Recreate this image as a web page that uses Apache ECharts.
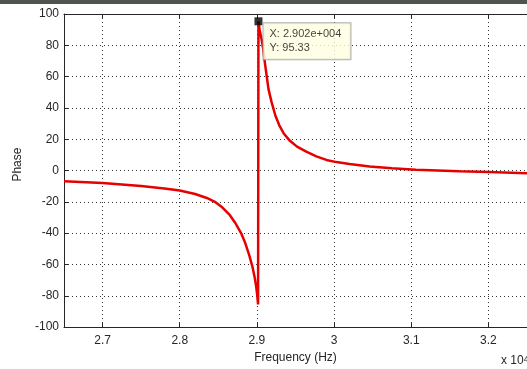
<!DOCTYPE html>
<html>
<head>
<meta charset="utf-8">
<script src="https://cdn.jsdelivr.net/npm/echarts@6/dist/echarts.min.js"></script>
<style>
  html, body { margin: 0; padding: 0; background: #fff; }
  #phase { width: 527px; height: 369px; }
</style>
</head>
<body>
<div id="phase"></div>
<script>
// frequency in units of 1e4 Hz, phase in degrees
const freq = [2.65, 2.70, 2.75, 2.78, 2.80, 2.82, 2.835, 2.845, 2.855, 2.865, 2.872, 2.88, 2.885, 2.89, 2.894,
  2.897, 2.899, 2.9005, 2.9015,
  2.902, 2.9035, 2.906, 2.908, 2.910, 2.915, 2.919, 2.924, 2.929, 2.935, 2.942, 2.952, 2.964, 2.977, 2.99,
  3.003, 3.02, 3.046, 3.075, 3.106, 3.162, 3.2, 3.25];
const phase = [-6.9, -8.0, -9.9, -11.4, -12.8, -15.0, -17.5, -19.8, -23.5, -28.5, -33.5, -40.5, -46.5, -54, -61,
  -68, -74, -80, -85.5,
  95.33, 90, 84, 78, 70, 52, 43.7, 35, 28.9, 23.5, 19.4, 15.3, 12.1, 9.1, 6.8,
  5.4, 4.2, 2.6, 1.5, 0.5, -0.5, -1.0, -1.7];

// data tip
const tipX = 2.902;
const tipY = 95.33;

const axisColor = '#262626';
const gridDash = [1, 3];

const chart = echarts.init(document.getElementById('phase'), null, { renderer: 'canvas' });

chart.setOption({
  backgroundColor: '#fff',
  animation: false,
  textStyle: { fontFamily: 'Liberation Sans, Arial, sans-serif' },
  grid: { left: 64, top: 14, width: 464, height: 318 },
  graphic: [
    { type: 'rect', left: 0, top: 0, shape: { width: 527, height: 4 }, style: { fill: '#4f554e' } },
    {
      type: 'text', left: 501, top: 355,
      style: {
        text: '{a|x 10}{s|4}',
        rich: {
          a: { fontSize: 12, fill: axisColor, fontFamily: 'Liberation Sans' },
          s: { fontSize: 9, fill: axisColor, verticalAlign: 'top', fontFamily: 'Liberation Sans' }
        }
      }
    }
  ],
  xAxis: [
    {
      type: 'value',
      min: 2.65,
      max: 3.25,
      splitNumber: 6,
      name: 'Frequency (Hz)',
      nameLocation: 'middle',
      nameGap: 24,
      nameTextStyle: { fontSize: 12, color: axisColor },
      axisLine: { show: true, onZero: false, lineStyle: { color: axisColor } },
      axisTick: { show: true, inside: true, length: 4, lineStyle: { color: axisColor } },
      axisLabel: { color: axisColor, fontSize: 12, margin: 8, showMinLabel: false, showMaxLabel: false },
      splitLine: { show: true, lineStyle: { color: '#333', type: gridDash } }
    },
    {
      type: 'value',
      position: 'top',
      min: 2.65,
      max: 3.25,
      splitNumber: 6,
      axisLine: { show: true, onZero: false, lineStyle: { color: axisColor } },
      axisTick: { show: true, inside: true, length: 4, lineStyle: { color: axisColor } },
      axisLabel: { show: false },
      splitLine: { show: false }
    }
  ],
  yAxis: {
    type: 'value',
    min: -100,
    max: 100,
    interval: 20,
    name: 'Phase',
    nameLocation: 'middle',
    nameGap: 38,
    nameTextStyle: { fontSize: 12, color: axisColor, padding: [0, 0, 0, 12] },
    axisLine: { show: true, onZero: false, lineStyle: { color: axisColor } },
    axisTick: { show: true, inside: true, length: 4, lineStyle: { color: axisColor } },
    axisLabel: { color: axisColor, fontSize: 12, margin: 5 },
    splitLine: { show: true, lineStyle: { color: '#333', type: gridDash } }
  },
  series: [
    {
      type: 'line',
      data: freq.map((f, i) => [f, phase[i]]),
      showSymbol: false,
      smooth: false,
      lineStyle: { color: '#e60000', width: 2.5 },
      z: 3
    },
    {
      type: 'scatter',
      data: [[tipX, tipY]],
      symbol: 'rect',
      symbolSize: 8,
      itemStyle: { color: '#000' },
      z: 5,
      label: {
        show: true,
        position: [9, 6],
        formatter: p => 'X: ' + p.value[0].toFixed(3) + 'e+004\nY: ' + p.value[1].toFixed(2),
        backgroundColor: '#ffffe1',
        borderColor: '#9a9a9a',
        borderWidth: 1,
        padding: [4, 6, 4, 6],
        width: 75,
        fontSize: 11,
        lineHeight: 14,
        color: '#111',
        fontFamily: 'Liberation Sans'
      }
    }
  ]
});
</script>
</body>
</html>
